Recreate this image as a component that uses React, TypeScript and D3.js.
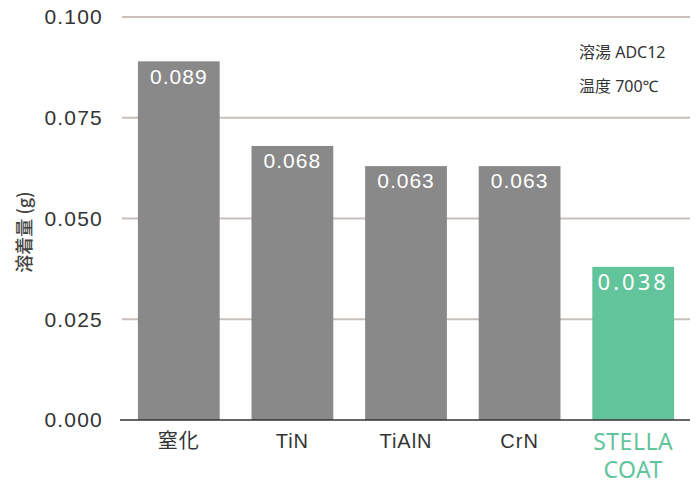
import React from "react";
import * as d3 from "d3";

const categories = ["窒化", "TiN", "TiAlN", "CrN", "STELLA COAT"];
const values = [0.089, 0.068, 0.063, 0.063, 0.038];
const labels = ["0.089", "0.068", "0.063", "0.063", "0.038"];
const yTicks = [0, 0.025, 0.05, 0.075, 0.1];
const notes = ["溶湯 ADC12", "温度 700℃"];

const W = 699;
const H = 482;
const margin = { top: 17, right: 9, bottom: 62, left: 122 };
const sans = "'Liberation Sans', 'Noto Sans CJK JP', sans-serif";
const noto = "'Noto Sans', 'Noto Sans CJK JP', sans-serif";
const green = "#62c49b";

export default function App() {
  const x = d3
    .scaleBand()
    .domain(categories)
    .range([margin.left, W - margin.right])
    .paddingInner(0.28)
    .paddingOuter(0.14);
  const y = d3.scaleLinear().domain([0, 0.1]).range([H - margin.bottom, margin.top]);
  const last = categories.length - 1;

  return (
    <svg
      width={W}
      height={H}
      style={{ position: "absolute", left: 0, top: 0 }}
      fontFamily={sans}
    >
      <rect width={W} height={H} fill="#fff" />
      {/* grid and y ticks */}
      {yTicks.map((t) => (
        <g key={t}>
          {t > 0 && (
            <line
              x1={margin.left}
              x2={W - margin.right}
              y1={y(t)}
              y2={y(t)}
              stroke="#c9c0bb"
              strokeWidth={2}
            />
          )}
          <text
            x={103}
            y={y(t)}
            dy="0.35em"
            textAnchor="end"
            fontSize={21}
            letterSpacing={1.2}
            fill="#333"
          >
            {d3.format(".3f")(t)}
          </text>
        </g>
      ))}
      <text
        transform={`translate(25,232) rotate(-90)`}
        textAnchor="middle"
        dy="0.35em"
        fontSize={18}
        fontWeight={500}
        fontFamily="'Noto Sans CJK JP', sans-serif"
        fill="#444"
      >
        溶着量 (g)
      </text>
      {/* bars */}
      {categories.map((c, i) => (
        <g key={c}>
          <rect
            x={x(c)}
            y={y(values[i])}
            width={x.bandwidth()}
            height={y(0) - y(values[i])}
            fill={i === last ? green : "#898989"}
          />
          <text
            x={x(c)! + x.bandwidth() / 2}
            y={y(values[i]) + 15}
            dy="0.35em"
            textAnchor="middle"
            fontSize={i === last ? 22 : 21}
            fontFamily={i === last ? noto : sans}
            letterSpacing={i === last ? 3 : 1}
            fill="#fff"
          >
            {labels[i]}
          </text>
        </g>
      ))}
      <line
        x1={margin.left - 2}
        x2={W - margin.right}
        y1={y(0)}
        y2={y(0)}
        stroke="#333"
        strokeWidth={1.5}
      />
      {/* x labels */}
      {categories.map((c, i) => {
        const cx = x(c)! + x.bandwidth() / 2;
        if (i === last) {
          return (
            <text
              key={c}
              textAnchor="middle"
              fontSize={23}
              letterSpacing={0.5}
              fontFamily={noto}
              fill={green}
            >
              {c.split(" ").map((w, k) => (
                <tspan key={w} x={cx} y={y(0) + 22 + k * 28} dy="0.35em">
                  {w}
                </tspan>
              ))}
            </text>
          );
        }
        return (
          <text
            key={c}
            x={cx}
            y={y(0) + 21}
            dy="0.35em"
            textAnchor="middle"
            fontSize={20}
            letterSpacing={1}
            fill="#333"
          >
            {c}
          </text>
        );
      })}
      {/* notes */}
      {notes.map((n, i) => (
        <text
          key={n}
          x={579}
          y={52 + i * 34}
          dy="0.35em"
          fontSize={16}
          fontFamily={noto}
          fill="#333"
        >
          {n}
        </text>
      ))}
    </svg>
  );
}
